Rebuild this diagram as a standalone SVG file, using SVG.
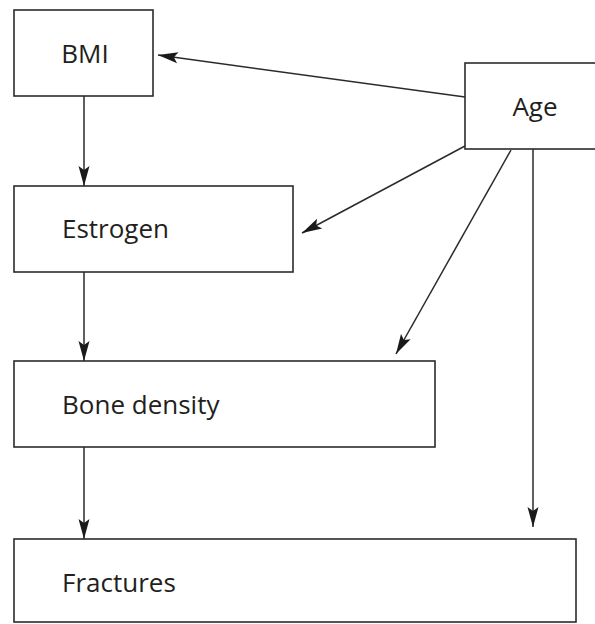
<svg xmlns="http://www.w3.org/2000/svg" width="595" height="624" viewBox="0 0 595 624">
<style>
.box{fill:#fff;stroke:#2b2b2b;stroke-width:1.6}
.lbl{font-family:"Open Sans","Noto Sans",sans-serif;font-size:26px;fill:#231f20}
.edge{stroke:#2b2b2b;stroke-width:1.5;fill:none;marker-end:url(#ah)}
</style>
<defs>
<marker id="ah" markerUnits="userSpaceOnUse" markerWidth="22" markerHeight="14" refX="20" refY="7" orient="auto">
<path d="M0,1.5 L20,7 L0,12.5 L4,7 Z" fill="#1a1a1a"/>
</marker>
</defs>
<rect width="595" height="624" fill="#fff"/>
<g id="connectors">
<line class="edge" x1="84" y1="96" x2="84" y2="186"/>
<line class="edge" x1="84" y1="272" x2="84" y2="361"/>
<line class="edge" x1="84" y1="447" x2="84" y2="539"/>
<line class="edge" x1="465" y1="97" x2="158" y2="55"/>
<line class="edge" x1="465" y1="146" x2="302" y2="233"/>
<line class="edge" x1="511" y1="150" x2="396" y2="354"/>
<line class="edge" x1="533" y1="149" x2="533" y2="527"/>
</g>
<g id="bmi"><rect class="box" x="14" y="10" width="139" height="86"/><text class="lbl" x="85" y="63" text-anchor="middle">BMI</text></g>
<g id="age"><rect class="box" x="465" y="63" width="134" height="86"/><text class="lbl" x="535" y="116" text-anchor="middle">Age</text></g>
<g id="estrogen"><rect class="box" x="14" y="186" width="279" height="86"/><text class="lbl" x="62" y="238">Estrogen</text></g>
<g id="bone"><rect class="box" x="14" y="361" width="421" height="86"/><text class="lbl" x="62" y="414">Bone density</text></g>
<g id="fractures"><rect class="box" x="14" y="539" width="562" height="83"/><text class="lbl" x="62" y="592">Fractures</text></g>
</svg>
